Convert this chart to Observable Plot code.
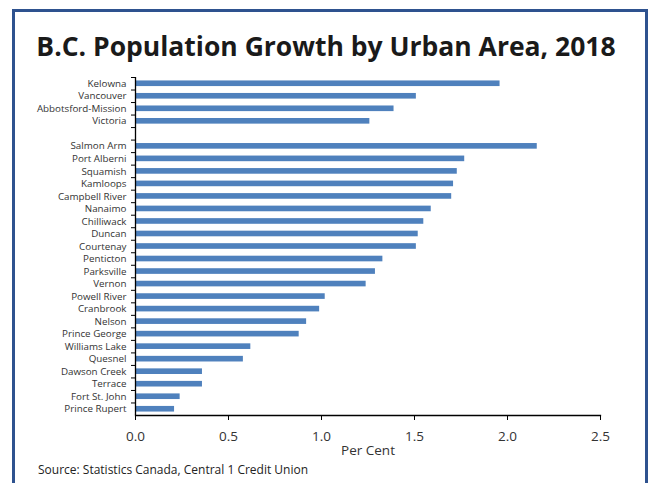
<!DOCTYPE html>
<html><head><meta charset="utf-8">
<script src="https://cdn.jsdelivr.net/npm/d3@7"></script>
<script src="https://cdn.jsdelivr.net/npm/@observablehq/plot@0.6"></script>
<style>
body{margin:0;background:#fff;width:652px;height:483px;overflow:hidden;position:relative;font-family:"Open Sans",sans-serif;}
#frame{position:absolute;left:12px;top:9px;width:630px;height:520px;border:3px solid #2E528F;}
#title{position:absolute;left:0;width:652px;top:28px;text-align:center;font-weight:700;font-size:26.5px;color:#1a1a1a;white-space:nowrap;}
#chart{position:absolute;left:0;top:0;}
#source{position:absolute;left:38px;top:461px;font-size:12px;color:#222;white-space:nowrap;}
</style></head><body>
<div id="frame"></div>
<div id="title">B.C. Population Growth by Urban Area, 2018</div>
<div id="chart"></div>
<div id="source">Source: Statistics Canada, Central 1 Credit Union</div>
<script>
const cities = ["Kelowna","Vancouver","Abbotsford-Mission","Victoria"," ","Salmon Arm","Port Alberni","Squamish","Kamloops","Campbell River","Nanaimo","Chilliwack","Duncan","Courtenay","Penticton","Parksville","Vernon","Powell River","Cranbrook","Nelson","Prince George","Williams Lake","Quesnel","Dawson Creek","Terrace","Fort St. John","Prince Rupert"];
const growth = [1.96,1.51,1.39,1.26,null,2.16,1.77,1.73,1.71,1.70,1.59,1.55,1.52,1.51,1.33,1.29,1.24,1.02,0.99,0.92,0.88,0.62,0.58,0.36,0.36,0.24,0.21];
const xTicks = [0,0.5,1.0,1.5,2.0,2.5];

const data = cities.map((c,i)=>({city:c, value:growth[i]})).filter(d=>d.value!=null);

const W=652,H=483,mT=77,mB=68,mL=135,mR=52;
const step=(H-mT-mB)/cities.length;

const chart = Plot.plot({
  width:W, height:H, marginTop:mT, marginBottom:mB, marginLeft:mL, marginRight:mR,
  style:{fontFamily:"Open Sans, sans-serif", fontSize:"9.5px", color:"#222", background:"transparent"},
  x:{domain:[0,2.5]},
  y:{domain:cities, paddingInner:0.55, paddingOuter:0.275, round:false},
  marks:[
    Plot.barX(data,{x:"value", y:"city", fill:"#4F81BD"}),
    Plot.axisY({tickSize:0, tickPadding:9, fontSize:9.8, fill:"#333", label:null, tickFormat:d=>d.trim()}),
    Plot.axisY({tickSize:4, tickFormat:()=>"", dy:-step/2, label:null, stroke:"#000"}),
    Plot.ruleX([0],{stroke:"#000", strokeWidth:1.3}),
    Plot.frame({anchor:"bottom", stroke:"#000", strokeWidth:1.3}),
    Plot.axisX({ticks:xTicks, tickFormat:d3.format(".1f"), tickSize:5, tickPadding:11, fontSize:13.5, fill:"#333", stroke:"#000",
      label:"Per Cent", labelAnchor:"center", labelArrow:"none", labelOffset:39, labelDx:-4})
  ]
});
document.getElementById("chart").appendChild(chart);
</script>
</body></html>
